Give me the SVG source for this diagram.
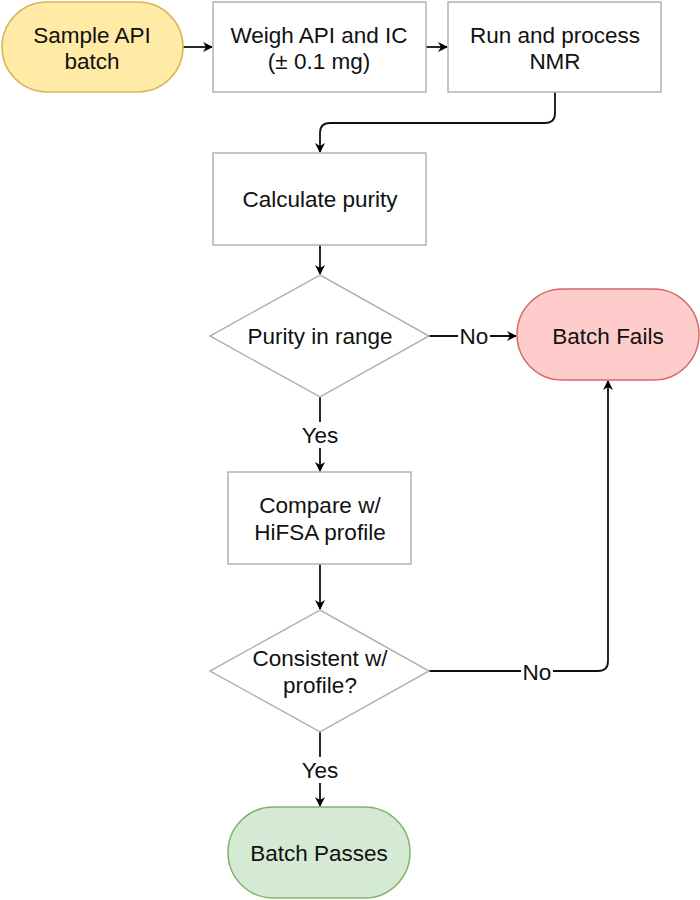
<svg xmlns="http://www.w3.org/2000/svg" width="700" height="900" viewBox="0 0 700 900">
<defs>
<marker id="ah" viewBox="0 0 10 10" refX="9" refY="5" markerWidth="10" markerHeight="10" markerUnits="userSpaceOnUse" orient="auto">
<path d="M0,0 L10,5 L0,10 L3,5 Z" fill="#000"/>
</marker>
<style>
.box{fill:#fff;stroke:#b3b3b3;stroke-width:1.5}
.start{fill:#ffeaa6;stroke:#d6b656;stroke-width:1.5}
.fail{fill:#ffcccc;stroke:#d46a6a;stroke-width:1.5}
.pass{fill:#d5ead4;stroke:#82b366;stroke-width:1.5}
text{font-family:"Liberation Sans",Arial,sans-serif;font-size:22.5px;fill:#111;text-anchor:middle;dominant-baseline:central}
.edge{fill:none;stroke:#111;stroke-width:1.8;marker-end:url(#ah)}
.line{fill:none;stroke:#111;stroke-width:1.8}
.lbl{fill:#fff}
</style>
</defs>
<rect width="700" height="900" fill="#fff"/>
<g id="connectors">
<path class="edge" d="M183,47 L212,47"/>
<path class="edge" d="M426,47 L447,47"/>
<path class="edge" d="M555,92 L555,113 Q555,123 545,123 L330,123 Q320,123 320,133 L320,152"/>
<path class="edge" d="M320,245 L320,274"/>
<path class="edge" d="M429,336 L516,336"/>
<path class="line" d="M320,397 L320,422"/>
<path class="edge" d="M320,448 L320,471"/>
<path class="edge" d="M320,564 L320,609"/>
<path class="edge" d="M429,671 L598,671 Q608,671 608,661 L608,381"/>
<path class="line" d="M320,732 L320,757"/>
<path class="edge" d="M320,783 L320,806"/>
<rect class="lbl" x="458" y="324" width="32" height="24"/>
<text x="474" y="336">No</text>
<text x="320" y="435">Yes</text>
<rect class="lbl" x="521" y="659" width="32" height="24"/>
<text x="537" y="672">No</text>
<text x="320" y="770">Yes</text>
</g>
<g id="sample">
<rect class="start" x="2" y="2" width="181" height="90" rx="45" ry="45"/>
<text x="92" y="35">Sample API</text>
<text x="92" y="61">batch</text>
</g>
<g id="weigh">
<rect class="box" x="213" y="2" width="213" height="90"/>
<text x="319" y="35">Weigh API and IC</text>
<text x="319" y="61">(± 0.1 mg)</text>
</g>
<g id="nmr">
<rect class="box" x="448" y="2" width="213" height="90"/>
<text x="555" y="35">Run and process</text>
<text x="555" y="61">NMR</text>
</g>
<g id="calc">
<rect class="box" x="213" y="153" width="213" height="92"/>
<text x="320" y="199">Calculate purity</text>
</g>
<g id="purity">
<polygon class="box" points="320,275 429,336 320,397 210,336"/>
<text x="320" y="336">Purity in range</text>
</g>
<g id="fails">
<rect class="fail" x="517" y="289" width="182" height="91" rx="45.5" ry="45.5"/>
<text x="608" y="336">Batch Fails</text>
</g>
<g id="compare">
<rect class="box" x="228" y="472" width="183" height="92"/>
<text x="320" y="505">Compare w/</text>
<text x="320" y="532">HiFSA profile</text>
</g>
<g id="consistent">
<polygon class="box" points="320,610 429,671 320,732 210,671"/>
<text x="320" y="658">Consistent w/</text>
<text x="320" y="685">profile?</text>
</g>
<g id="passes">
<rect class="pass" x="228" y="807" width="182" height="91" rx="45.5" ry="45.5"/>
<text x="319" y="853">Batch Passes</text>
</g>
</svg>
